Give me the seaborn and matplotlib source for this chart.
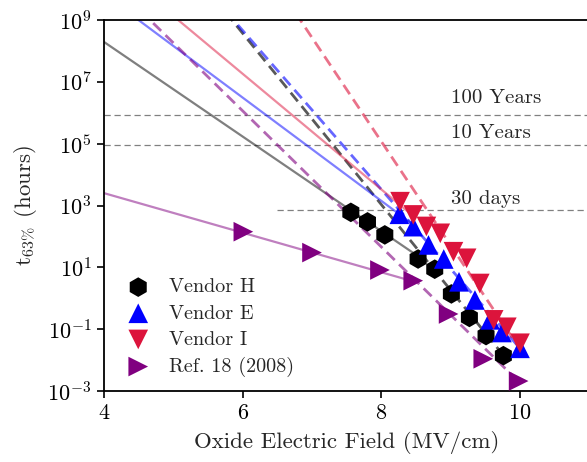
import numpy as np
import matplotlib
matplotlib.use("Agg")
import matplotlib.pyplot as plt
import seaborn as sns
import pandas as pd

# ---------------- data ----------------
h_field = [7.56, 7.80, 8.05, 8.53, 8.77, 9.01, 9.27, 9.51, 9.76]
h_t63 = [600, 295, 112, 18.6, 8.7, 1.38, 0.24, 0.062, 0.0139]

e_field = [8.26, 8.46, 8.68, 8.90, 9.12, 9.35, 9.57, 9.74, 10.0]
e_t63 = [520, 207, 53, 18.6, 3.4, 0.88, 0.20, 0.078, 0.024]

i_field = [8.27, 8.46, 8.65, 8.85, 9.04, 9.23, 9.42, 9.62, 9.81, 10.0]
i_t63 = [1330, 495, 210, 126, 32, 19.6, 3.0, 0.20, 0.115, 0.035]

r_field = [6.01, 7.00, 7.98, 8.46, 8.97, 9.47, 9.98]
r_t63 = [142, 30, 8.2, 3.7, 0.31, 0.011, 0.0021]

series_names = ["Vendor H", "Vendor E", "Vendor I", "Ref. 18 (2008)"]

# fit lines: log10(t) = a + b*E, drawn from E_start to E_end
solid_a = [14.41, 16.51, 18.48, 5.96]
solid_b = [-1.53, -1.67, -1.87, -0.64]
solid_end = [8.53, 8.46, 8.46, 8.46]

dashed_a = [25.19, 24.08, 31.95, 19.26]
dashed_b = [-2.77, -2.57, -3.36, -2.20]
dashed_end = [9.76, 10.0, 10.0, 9.98]

ref_labels = ["100 Years", "10 Years", "30 days"]
ref_hours = [876000, 87600, 720]
ref_xstart = [4.0, 4.0, 6.5]
ref_text_y = [10**6.30, 10**5.19, 10**3.05]

yticks = [1e-3, 1e-1, 1e1, 1e3, 1e5, 1e7, 1e9]
xticks = [4, 6, 8, 10]

# ---------------- style ----------------
sns.set_theme(style="ticks")
plt.rcParams["font.family"] = "serif"
plt.rcParams["font.serif"] = ["cmr10", "DejaVu Serif"]
plt.rcParams["mathtext.fontset"] = "cm"
plt.rcParams["axes.formatter.use_mathtext"] = True
plt.rcParams["axes.unicode_minus"] = True

colors = ["black", "blue", "crimson", "purple"]
markers = ["h", "^", "v", ">"]
dash_alpha = [0.65, 0.6, 0.6, 0.6]

fig = plt.figure(figsize=(5.87, 4.62), dpi=100)
ax = fig.add_axes([104 / 587, 71 / 462, 1 - 104 / 587 + 0.004, 371 / 462])

# reference horizontal lines
for lab, hrs, xs, ty in zip(ref_labels, ref_hours, ref_xstart, ref_text_y):
    ax.plot([xs, 11.5], [hrs, hrs], color="gray", lw=0.9, ls=(0, (5, 3)), zorder=1)
    ax.text(9.01, ty, lab, fontsize=15, va="baseline", ha="left")

# fit lines
for k in range(4):
    E = np.linspace(4.0, solid_end[k], 200)
    ax.plot(E, 10 ** (solid_a[k] + solid_b[k] * E), color=colors[k], alpha=0.5, lw=1.6, zorder=2)
    E = np.linspace(4.0, dashed_end[k], 200)
    ax.plot(E, 10 ** (dashed_a[k] + dashed_b[k] * E), color=colors[k], alpha=dash_alpha[k],
            lw=2.0, ls=(0, (4, 2.2)), zorder=2)

# data
all_field = [h_field, e_field, i_field, r_field]
all_t = [h_t63, e_t63, i_t63, r_t63]
sizes = [200, 200, 200, 200]
for k in range(4):
    df = pd.DataFrame({"E": all_field[k], "t": all_t[k]})
    sns.scatterplot(data=df, x="E", y="t", ax=ax, marker=markers[k], color=colors[k],
                    s=sizes[k], edgecolor="none", linewidth=0, label=series_names[k], zorder=3)

ax.set_yscale("log")
ax.set_xlim(4, 11.0)
ax.set_ylim(1e-3, 1e9)
ax.set_yticks(yticks)
ax.set_xticks(xticks)
ax.minorticks_off()
ax.tick_params(axis="both", which="major", direction="out", length=5, width=1.2,
               labelsize=16, top=False, right=False, colors="black", pad=4)
for s in ["left", "bottom", "top"]:
    ax.spines[s].set_linewidth(1.3)
    ax.spines[s].set_color("black")
ax.spines["right"].set_visible(False)

ax.set_xlabel("Oxide Electric Field (MV/cm)", fontsize=16.5, labelpad=6)
ax.set_ylabel(r"t$_{63\%}$ (hours)", fontsize=16.5, labelpad=6)

leg = ax.legend(loc="lower left", bbox_to_anchor=(0.0, 0.0), frameon=False, fontsize=14.5,
                handletextpad=0.55, labelspacing=0.4, borderaxespad=0.3)

fig.savefig("out.png", dpi=100)
